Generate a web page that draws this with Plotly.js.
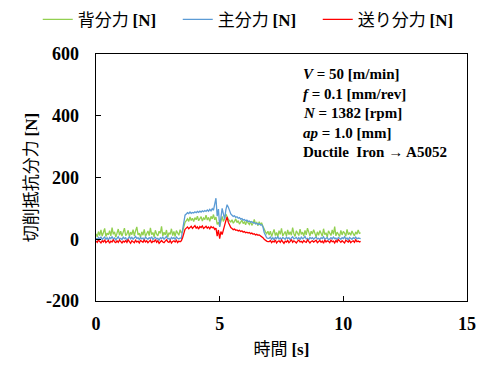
<!DOCTYPE html>
<html>
<head>
<meta charset="utf-8">
<script src="https://cdn.plot.ly/plotly-3.0.1.min.js"></script>
<style>html,body{margin:0;padding:0;background:#fff;}#chart{width:491px;height:378px;}</style>
</head>
<body>
<div id="chart"></div>
<script>
// time [s]
var time = [
0.00,0.05,0.10,0.15,0.20,0.25,0.30,0.35,0.40,0.45,0.50,0.55,0.60,0.65,0.70,0.75,0.80,0.85,0.90,0.95,
1.00,1.05,1.10,1.15,1.20,1.25,1.30,1.35,1.40,1.45,1.50,1.55,1.60,1.65,1.70,1.75,1.80,1.85,1.90,1.95,
2.00,2.05,2.10,2.15,2.20,2.25,2.30,2.35,2.40,2.45,2.50,2.55,2.60,2.65,2.70,2.75,2.80,2.85,2.90,2.95,
3.00,3.05,3.10,3.15,3.20,3.25,3.30,3.35,3.40,3.45,3.50,3.55,3.60,3.65,3.70,3.75,3.80,3.85,3.90,3.95,
4.00,4.05,4.10,4.15,4.20,4.25,4.30,4.35,4.40,4.45,4.50,4.55,4.60,4.65,4.70,4.75,4.80,4.85,4.90,4.95,
5.00,5.05,5.10,5.15,5.20,5.25,5.30,5.35,5.40,5.45,5.50,5.55,5.60,5.65,5.70,5.75,5.80,5.85,5.90,5.95,
6.00,6.05,6.10,6.15,6.20,6.25,6.30,6.35,6.40,6.45,6.50,6.55,6.60,6.65,6.70,6.75,6.80,6.85,6.90,6.95,
7.00,7.05,7.10,7.15,7.20,7.25,7.30,7.35,7.40,7.45,7.50,7.55,7.60,7.65,7.70,7.75,7.80,7.85,7.90,7.95,
8.00,8.05,8.10,8.15,8.20,8.25,8.30,8.35,8.40,8.45,8.50,8.55,8.60,8.65,8.70,8.75,8.80,8.85,8.90,8.95,
9.00,9.05,9.10,9.15,9.20,9.25,9.30,9.35,9.40,9.45,9.50,9.55,9.60,9.65,9.70,9.75,9.80,9.85,9.90,9.95,
10.00,10.05,10.10,10.15,10.20,10.25,10.30,10.35,10.40,10.45,10.50,10.55,10.60,10.65,10.70];

// 背分力 [N]
var backForce = [
18,8,25,12,30,10,22,35,9,20,14,28,11,38,16,24,7,19,33,13,
26,10,21,36,12,17,29,9,23,15,31,11,27,40,14,20,6,24,13,32,
9,18,27,12,37,15,22,8,29,17,11,26,19,42,10,23,14,30,7,21,
16,34,12,25,9,28,18,13,31,20,
25,40,55,60,66,58,72,61,68,57,70,63,75,60,67,73,59,69,64,78,
62,71,58,74,66,80,63,72,48,55,42,62,74,58,66,82,70,64,60,56,
63,52,58,66,54,60,49,57,62,51,56,47,61,53,48,58,45,52,64,49,
54,44,57,48,52,42,30,24,18,26,
14,26,9,19,32,12,22,8,28,16,35,11,20,25,10,30,15,24,13,38,
18,9,27,21,12,33,16,23,10,29,14,36,19,11,26,17,31,22,8,24,
13,28,19,10,34,15,21,7,27,18,12,30,16,41,11,23,17,9,29,14,
25,20,10,32,15,22,13,27,18,11,24,16,30,19,21];

// 主分力 [N]
var mainForce = [
4,-2,6,1,8,-1,3,7,0,5,-3,6,2,9,1,4,-2,5,8,0,
3,-1,7,2,5,-3,4,8,1,6,0,3,9,2,5,-1,6,1,4,-2,
7,3,0,5,2,8,-1,4,6,1,3,-3,5,2,7,0,4,9,1,3,
-2,6,2,5,0,7,3,1,4,2,
30,60,78,82,86,83,88,84,87,85,89,86,90,87,91,88,92,89,93,90,
95,91,97,92,99,94,110,133,75,98,40,70,100,82,65,95,112,104,90,82,
78,74,76,71,73,68,70,65,67,62,64,60,62,57,59,55,57,53,54,50,
52,48,50,46,47,40,22,10,5,3,
3,7,0,5,-2,6,2,8,1,4,-1,6,3,0,7,2,5,-2,4,8,
1,3,6,0,5,-1,7,2,4,9,1,3,-2,6,2,5,0,4,7,1,
3,-1,5,2,8,0,4,6,-2,3,5,1,7,2,4,-1,6,3,0,5,
2,8,1,4,-2,6,3,0,5,2,7,1,4,3,2];

// 送り分力 [N]
var feedForce = [
-6,-10,-3,-8,-12,-5,-9,-2,-11,-7,-4,-13,-6,-9,-1,-8,-11,-5,-10,-3,
-7,-12,-6,-9,-4,-10,-2,-8,-13,-5,-7,-11,-3,-9,-6,-12,-4,-8,-10,-2,
-9,-5,-11,-7,-3,-12,-6,-8,-1,-10,-5,-13,-7,-4,-9,-11,-6,-2,-8,-10,
-4,-12,-7,-5,-9,-3,-11,-6,-8,-5,
5,20,32,36,40,34,38,42,35,39,44,36,40,33,41,38,43,35,39,42,
36,40,34,41,37,39,32,36,10,30,2,25,15,35,45,60,72,55,45,38,
35,31,33,29,30,27,29,25,27,23,25,21,23,20,22,18,20,16,18,14,
16,13,14,11,9,5,0,-4,-6,-8,
-8,-4,-11,-6,-9,-2,-12,-7,-5,-10,-3,-8,-13,-6,-9,-4,-11,-7,-1,-10,
-5,-8,-12,-6,-3,-9,-7,-11,-4,-8,-10,-2,-6,-12,-7,-5,-9,-6,-3,-11,
-8,-4,-10,-6,-13,-2,-9,-5,-7,-11,-3,-8,-6,-12,-4,-9,-1,-7,-10,-5,
-8,-12,-3,-6,-9,-4,-11,-7,-5,-10,-2,-8,-6,-9,-7];

var seriesNames = ['背分力', '主分力', '送り分力'];
var xTicks = [0, 5, 10, 15];
var yTicks = [-200, 0, 200, 400, 600];
var conditionLines = [
  '<i>V</i> = 50 [m/min]',
  '<i>f</i> = 0.1 [mm/rev]',
  '<i>N</i> = 1382 [rpm]',
  '<i>ap</i> = 1.0 [mm]',
  'Ductile  Iron → A5052'
];

var JP = '"Noto Sans CJK JP", "Noto Sans", sans-serif';
var SERIF = '"Liberation Serif", "DejaVu Serif", serif';
function label(jp, unit) {
  return jp + ' <span style="font-family:\'Liberation Serif\';font-weight:bold">' + unit + '</span>';
}

var colors = ['#92D050', '#5B9BD5', '#FF0000'];
var ys = [backForce, mainForce, feedForce];
var traces = ys.map(function (y, i) {
  return {
    x: time, y: y, type: 'scatter', mode: 'lines',
    name: label(seriesNames[i], '[N]'),
    line: {color: colors[i], width: 1.3}
  };
});

var annotations = conditionLines.map(function (t, i) {
  return {
    xref: 'paper', yref: 'paper',
    x: 0.553, y: 0.919 - i * 0.079,
    xanchor: 'left', yanchor: 'middle',
    text: '<b>' + t + '</b>', showarrow: false, align: 'left',
    font: {family: SERIF, size: 15, color: '#000'}
  };
});

var layout = {
  width: 491, height: 378,
  margin: {l: 95.7, r: 24.3, t: 54, b: 77.3, autoexpand: false},
  paper_bgcolor: '#fff', plot_bgcolor: '#fff',
  showlegend: true,
  legend: {
    orientation: 'h', x: -0.157, xanchor: 'left', y: 1.138, yanchor: 'middle',
    font: {family: JP, size: 17, color: '#000'},
    itemwidth: 30, entrywidth: 95, entrywidthmode: 'pixels', tracegroupgap: 0
  },
  xaxis: {
    range: [0, 15], tickvals: xTicks, ticktext: xTicks.map(String),
    ticks: 'inside', ticklen: 5, tickcolor: '#000', ticklabelstandoff: 6,
    showline: true, linecolor: '#000', linewidth: 1.3, mirror: true,
    showgrid: false, zeroline: false,
    tickfont: {family: SERIF, size: 18, color: '#000', weight: 'bold'},
    title: {text: label('時間', '[s]'), font: {family: JP, size: 17, color: '#000'}, standoff: 10}
  },
  yaxis: {
    range: [-200, 600], tickvals: yTicks, ticktext: yTicks.map(String),
    ticks: 'inside', ticklen: 5, tickcolor: '#000', ticklabelstandoff: 12,
    showline: true, linecolor: '#000', linewidth: 1.3, mirror: true,
    showgrid: false, zeroline: false,
    tickfont: {family: SERIF, size: 18, color: '#000', weight: 'bold'},
    title: {text: label('切削抵抗分力', '[N]'), font: {family: JP, size: 17, color: '#000'}, standoff: 4}
  },
  annotations: annotations
};

Plotly.newPlot('chart', traces, layout, {displayModeBar: false, staticPlot: true});
</script>
</body>
</html>
